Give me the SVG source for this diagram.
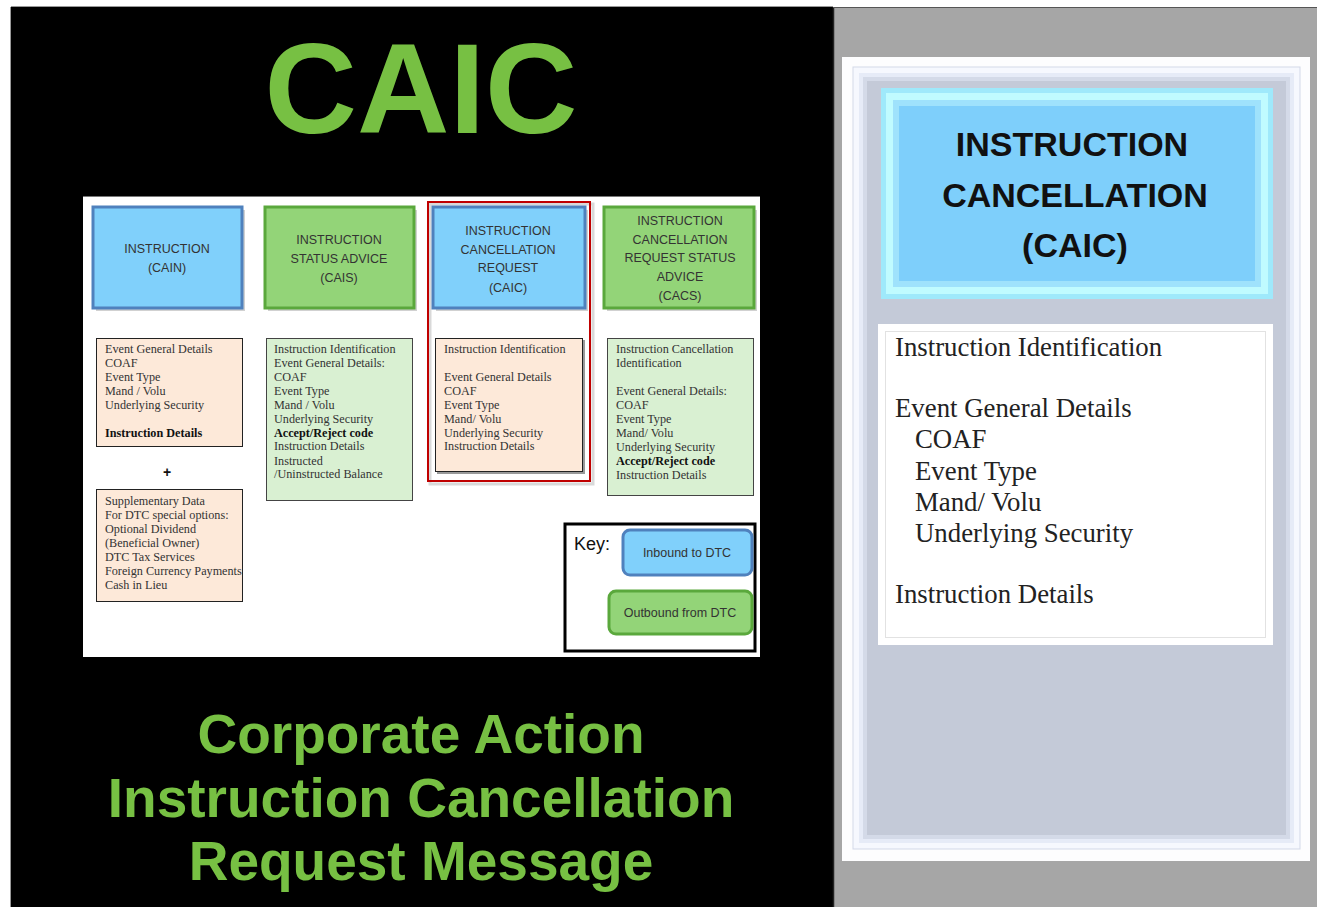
<svg xmlns="http://www.w3.org/2000/svg" width="1317" height="907" viewBox="0 0 1317 907">
<defs>
<style>
.big{font-family:"Liberation Sans",Arial,sans-serif;font-weight:bold;fill:#77c043;text-anchor:middle}
.hdr{font-family:"Liberation Sans",Arial,sans-serif;font-size:12.5px;fill:#333;text-anchor:middle}
.sm{font-family:"Liberation Serif","Times New Roman",serif;font-size:12.2px;fill:#333}
.b{font-weight:bold;fill:#111}
.blue{fill:#80d0fb;stroke:#4f81bd;stroke-width:3}
.green{fill:#93d478;stroke:#5aa83c;stroke-width:3}
.peach{fill:#fde9d9;stroke:#222;stroke-width:1}
.lgreen{fill:#d9f0d2;stroke:#444;stroke-width:1}
.shadow{fill:#000;opacity:0.18}
.ttl{font-family:"Liberation Sans",Arial,sans-serif;font-weight:bold;font-size:34px;fill:#111;text-anchor:middle}
.body{font-family:"Liberation Serif","Times New Roman",serif;font-size:26.8px;fill:#222}
</style>
</defs>
<rect x="0" y="0" width="1317" height="907" fill="#ffffff"/>
<g id="left-panel">
<rect x="11" y="7" width="822" height="900" fill="#000"/>
<line x1="10.5" y1="7" x2="10.5" y2="907" stroke="#999" stroke-width="1"/>
<line x1="11" y1="6.5" x2="833" y2="6.5" stroke="#999" stroke-width="1"/>
<text class="big" x="421" y="133" font-size="128">CAIC</text>
<text class="big" x="421" y="753" font-size="55">Corporate Action</text>
<text class="big" x="421" y="817" font-size="55">Instruction Cancellation</text>
<text class="big" x="421" y="880" font-size="55">Request Message</text>
</g>
<g id="right-panel">
<rect x="833" y="7" width="484" height="900" fill="#a6a6a6"/>
<line x1="833.5" y1="7" x2="833.5" y2="907" stroke="#222" stroke-width="1.5"/>
<line x1="833" y1="7.5" x2="1317" y2="7.5" stroke="#555" stroke-width="1"/>
<rect x="842" y="57" width="468" height="804" fill="#fdfdfe"/>
<rect x="853" y="67" width="447" height="782" fill="#f6f8fe" stroke="#d3d9e8" stroke-width="1"/>
<rect x="859" y="73" width="435" height="770" fill="#e6ebf7"/>
<rect x="863" y="77" width="427" height="762" fill="#d4dae8"/>
<rect x="867" y="81" width="419" height="754" fill="#c4cad8"/>
</g>
<g id="title-box">
<rect x="881" y="88" width="392" height="211" fill="#9fe9fb"/>
<rect x="886" y="93" width="382" height="201" fill="#c0fbff"/>
<rect x="893" y="100" width="368" height="187" fill="#9fe2fc"/>
<rect x="899" y="106" width="356" height="175" fill="#7ecffb"/>
<text class="ttl" x="1072" y="156">INSTRUCTION</text>
<text class="ttl" x="1075" y="207">CANCELLATION</text>
<text class="ttl" x="1075" y="257">(CAIC)</text>
</g>
<g id="detail-box">
<rect x="878" y="324" width="395" height="321" fill="#fff"/>
<rect x="885.5" y="331.5" width="380" height="306" fill="none" stroke="#e2e2e2" stroke-width="1"/>
<text class="body" x="895" y="356">Instruction Identification</text>
<text class="body" x="895" y="417">Event General  Details</text>
<text class="body" x="915" y="448">COAF</text>
<text class="body" x="915" y="480">Event Type</text>
<text class="body" x="915" y="511">Mand/ Volu</text>
<text class="body" x="915" y="542">Underlying Security</text>
<text class="body" x="895" y="603">Instruction Details</text>
</g>
<g id="inner-diagram">
<rect x="83" y="197" width="677" height="460" fill="#fff"/>
<line x1="83" y1="196.5" x2="760" y2="196.5" stroke="#777" stroke-width="1"/>
</g>
<g id="cain">
<rect class="shadow" x="96" y="210" width="149" height="101"/>
<rect class="blue" x="93" y="207" width="149" height="101"/>
<text class="hdr" x="167" y="253">INSTRUCTION</text>
<text class="hdr" x="167" y="272">(CAIN)</text>
</g>
<g id="cais">
<rect class="shadow" x="268" y="210" width="149" height="101"/>
<rect class="green" x="265" y="207" width="149" height="101"/>
<text class="hdr" x="339" y="244">INSTRUCTION</text>
<text class="hdr" x="339" y="263">STATUS ADVICE</text>
<text class="hdr" x="339" y="282">(CAIS)</text>
</g>
<g id="caic-highlight">
<rect x="430" y="204" width="163" height="280" fill="none" stroke="#000" stroke-opacity="0.15" stroke-width="3"/>
<rect x="428" y="202" width="162" height="279" fill="none" stroke="#c00000" stroke-width="2"/>
</g>
<g id="caic">
<rect class="shadow" x="436" y="210" width="152" height="101"/>
<rect class="blue" x="433" y="207" width="152" height="101"/>
<text class="hdr" x="508" y="235">INSTRUCTION</text>
<text class="hdr" x="508" y="254">CANCELLATION</text>
<text class="hdr" x="508" y="272">REQUEST</text>
<text class="hdr" x="508" y="292">(CAIC)</text>
</g>
<g id="cacs">
<rect class="shadow" x="607" y="210" width="150" height="101"/>
<rect class="green" x="604" y="207" width="150" height="101"/>
<text class="hdr" x="680" y="225">INSTRUCTION</text>
<text class="hdr" x="680" y="244">CANCELLATION</text>
<text class="hdr" x="680" y="262">REQUEST STATUS</text>
<text class="hdr" x="680" y="281">ADVICE</text>
<text class="hdr" x="680" y="300">(CACS)</text>
</g>
<g id="cain-details">
<rect class="peach" x="96.5" y="338.5" width="146" height="108"/>
<text class="sm" x="105" y="353">Event General Details</text>
<text class="sm" x="105" y="367">COAF</text>
<text class="sm" x="105" y="381">Event Type</text>
<text class="sm" x="105" y="395">Mand / Volu</text>
<text class="sm" x="105" y="409">Underlying Security</text>
<text class="sm b" x="105" y="437">Instruction Details</text>
</g>
<g id="plus">
<text x="167" y="477" font-family="Liberation Sans, Arial, sans-serif" font-size="14" font-weight="bold" fill="#111" text-anchor="middle">+</text>
</g>
<g id="supplementary">
<rect class="peach" x="96.5" y="489.5" width="146" height="112"/>
<text class="sm" x="105" y="505">Supplementary Data</text>
<text class="sm" x="105" y="519">For DTC special options:</text>
<text class="sm" x="105" y="533">Optional Dividend</text>
<text class="sm" x="105" y="547">(Beneficial Owner)</text>
<text class="sm" x="105" y="561">DTC Tax Services</text>
<text class="sm" x="105" y="575">Foreign Currency Payments</text>
<text class="sm" x="105" y="589">Cash in Lieu</text>
</g>
<g id="cais-details">
<rect class="lgreen" x="266.5" y="338.5" width="146" height="162"/>
<text class="sm" x="274" y="353">Instruction Identification</text>
<text class="sm" x="274" y="367">Event General Details:</text>
<text class="sm" x="274" y="381">COAF</text>
<text class="sm" x="274" y="395">Event Type</text>
<text class="sm" x="274" y="409">Mand / Volu</text>
<text class="sm" x="274" y="423">Underlying Security</text>
<text class="sm b" x="274" y="437">Accept/Reject code</text>
<text class="sm" x="274" y="450">Instruction Details</text>
<text class="sm" x="274" y="465">Instructed</text>
<text class="sm" x="274" y="478">/Uninstructed Balance</text>
</g>
<g id="caic-details">
<rect x="437" y="340" width="148" height="134" fill="#999"/>
<rect class="peach" x="435.5" y="338.5" width="147" height="133"/>
<text class="sm" x="444" y="353">Instruction Identification</text>
<text class="sm" x="444" y="381">Event General Details</text>
<text class="sm" x="444" y="395">COAF</text>
<text class="sm" x="444" y="409">Event Type</text>
<text class="sm" x="444" y="423">Mand/ Volu</text>
<text class="sm" x="444" y="437">Underlying Security</text>
<text class="sm" x="444" y="450">Instruction Details</text>
</g>
<g id="cacs-details">
<rect class="lgreen" x="607.5" y="338.5" width="146" height="157"/>
<text class="sm" x="616" y="353">Instruction Cancellation</text>
<text class="sm" x="616" y="367">Identification</text>
<text class="sm" x="616" y="395">Event General Details:</text>
<text class="sm" x="616" y="409">COAF</text>
<text class="sm" x="616" y="423">Event Type</text>
<text class="sm" x="616" y="437">Mand/ Volu</text>
<text class="sm" x="616" y="451">Underlying Security</text>
<text class="sm b" x="616" y="465">Accept/Reject code</text>
<text class="sm" x="616" y="479">Instruction Details</text>
</g>
<g id="key">
<rect x="565" y="524" width="190" height="127" fill="#fff" stroke="#000" stroke-width="3"/>
<text x="574" y="550" font-family="Liberation Sans, Arial, sans-serif" font-size="18" fill="#111">Key:</text>
<rect class="blue" x="623" y="530" width="129" height="45" rx="7"/>
<text class="hdr" x="687" y="557" font-size="13">Inbound to DTC</text>
<rect class="green" x="609" y="591" width="143" height="43" rx="7"/>
<text class="hdr" x="680" y="617" font-size="13">Outbound from DTC</text>
</g>
<g id="connectors"></g>
</svg>
